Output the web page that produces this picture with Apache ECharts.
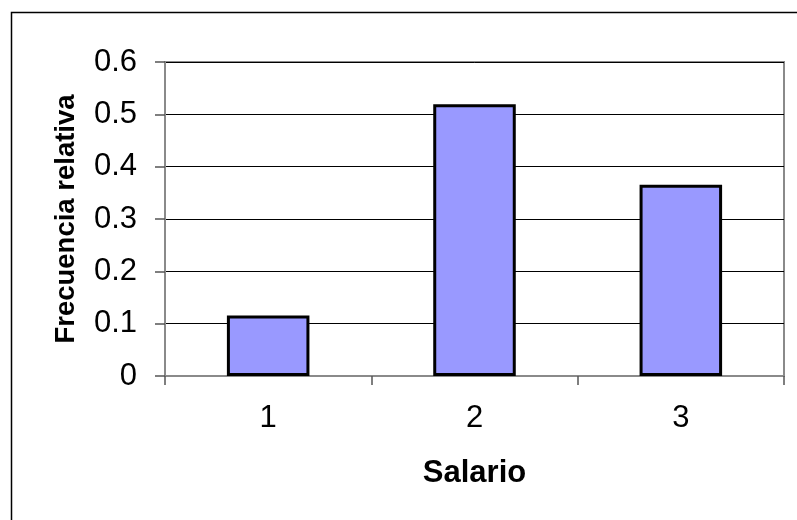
<!DOCTYPE html>
<html>
<head>
<meta charset="utf-8">
<script src="https://cdn.jsdelivr.net/npm/echarts@6/dist/echarts.min.js"></script>
<style>html,body{margin:0;padding:0;background:#fff;}#c{width:797px;height:520px;}</style>
</head>
<body>
<div id="c"></div>
<script>
const categories = ['1', '2', '3'];
const values = [0.1154, 0.5192, 0.3654];
const yTicks = { min: 0, max: 0.6, interval: 0.1 };
const xTitle = 'Salario';
const yTitle = 'Frecuencia relativa';

const chart = echarts.init(document.getElementById('c'), null, { renderer: 'canvas' });
const font = '"Liberation Sans", Arial, sans-serif';
chart.setOption({
  animation: false,
  backgroundColor: '#fff',
  graphic: [{
    type: 'rect', shape: { x: 11.5, y: 12.5, width: 900, height: 700 },
    style: { fill: 'none', stroke: '#000', lineWidth: 1.5 }, z: 0, silent: true
  }],
  grid: { left: 165, top: 62, right: 13, bottom: 144, show: true, borderColor: '#8a8a8a', borderWidth: 2, backgroundColor: 'transparent' },
  xAxis: {
    type: 'category', data: categories,
    name: xTitle, nameLocation: 'middle', nameGap: 82,
    nameTextStyle: { fontFamily: font, fontSize: 31, fontWeight: 'bold', color: '#000' },
    axisLine: { lineStyle: { color: '#8a8a8a', width: 2 } },
    axisTick: { show: true, length: 9, inside: false, lineStyle: { color: '#555', width: 1.5 } },
    axisLabel: { fontFamily: font, fontSize: 31, color: '#000', margin: 27 },
    splitLine: { show: false }
  },
  yAxis: {
    type: 'value', min: yTicks.min, max: yTicks.max, interval: yTicks.interval,
    name: yTitle, nameLocation: 'middle', nameGap: 85, nameRotate: 90,
    nameTextStyle: { fontFamily: font, fontSize: 27.5, fontWeight: 'bold', color: '#000' },
    axisLine: { show: true, lineStyle: { color: '#8a8a8a', width: 2 } },
    axisTick: { show: true, length: 10, lineStyle: { color: '#555', width: 1.5 } },
    axisLabel: { fontFamily: font, fontSize: 31, color: '#000', margin: 28, formatter: v => String(+v.toFixed(1)) },
    splitLine: { show: true, lineStyle: { color: '#000', width: 1 } }
  },
  series: [{
    type: 'bar', data: values, barWidth: '40%',
    itemStyle: { color: '#9999FF', borderColor: '#000', borderWidth: 3 }
  }]
});
</script>
</body>
</html>
